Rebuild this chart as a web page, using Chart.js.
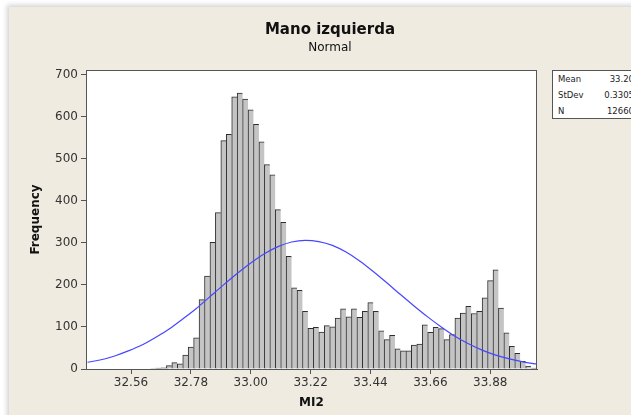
<!DOCTYPE html>
<html>
<head>
<meta charset="utf-8">
<script src="https://cdn.jsdelivr.net/npm/chart.js@4.4.0/dist/chart.umd.min.js"></script>
<style>
    html, body { margin: 0; padding: 0; width: 631px; height: 415px; overflow: hidden; background: #ffffff; }
    #panel { position: absolute; left: 9px; top: 7px; width: 640px; height: 420px; background: #efebe1; box-shadow: -2px -2px 5px rgba(0, 0, 0, 0.18); }
    #grafico { position: absolute; left: 0; top: 0; }
    .titulo { position: absolute; left: 0; width: 660px; text-align: center; font-family: "DejaVu Sans", sans-serif; color: #111; line-height: 1; }
    #stats { position: absolute; left: 552px; top: 70px; width: 100px; height: 47px; background: #fff; border: 1px solid #555; font-family: "DejaVu Sans", sans-serif; font-size: 8.5px; color: #222; }
    #stats .fila { position: absolute; left: 0; width: 100px; height: 11px; line-height: 11px; }
    #stats .et { position: absolute; left: 5px; }
    #stats .val { position: absolute; left: 0; width: 81px; text-align: right; }
</style>
</head>
<body>
<div id="panel"></div>
<canvas id="grafico" width="631" height="415"></canvas>
<div class="titulo" style="top: 22px; font-size: 15px; font-weight: bold;">Mano izquierda</div>
<div class="titulo" style="top: 41px; font-size: 12px;">Normal</div>
<div id="stats">
    <div class="fila" style="top: 3px;"><span class="et">Mean</span><span class="val">33.20</span></div>
    <div class="fila" style="top: 19px;"><span class="et">StDev</span><span class="val">0.3305</span></div>
    <div class="fila" style="top: 35px;"><span class="et">N</span><span class="val">12660</span></div>
</div>
<script>
// centros de las clases del histograma (ancho 0.02)
const centros = [
    32.64, 32.66, 32.68, 32.70, 32.72, 32.74, 32.76, 32.78, 32.80, 32.82,
    32.84, 32.86, 32.88, 32.90, 32.92, 32.94, 32.96, 32.98, 33.00, 33.02,
    33.04, 33.06, 33.08, 33.10, 33.12, 33.14, 33.16, 33.18, 33.20, 33.22,
    33.24, 33.26, 33.28, 33.30, 33.32, 33.34, 33.36, 33.38, 33.40, 33.42,
    33.44, 33.46, 33.48, 33.50, 33.52, 33.54, 33.56, 33.58, 33.60, 33.62,
    33.64, 33.66, 33.68, 33.70, 33.72, 33.74, 33.76, 33.78, 33.80, 33.82,
    33.84, 33.86, 33.88, 33.90, 33.92, 33.94, 33.96, 33.98, 34.00, 34.02,
    34.04
];
const frecuencias = [
    1, 2, 3, 8, 15, 12, 33, 52, 74, 165,
    221, 301, 372, 543, 558, 647, 656, 642, 616, 582,
    540, 486, 462, 379, 349, 268, 193, 187, 137, 97,
    99, 88, 103, 100, 121, 143, 124, 143, 123, 137,
    158, 137, 91, 70, 80, 48, 43, 43, 57, 59,
    105, 87, 99, 96, 70, 82, 121, 133, 149, 132,
    137, 169, 210, 236, 145, 86, 54, 37, 18, 7,
    2
];

// curva normal
const curvaX = [
    32.40, 32.45, 32.50, 32.55, 32.60, 32.65, 32.70, 32.75, 32.80, 32.85,
    32.90, 32.95, 33.00, 33.05, 33.10, 33.15, 33.20, 33.25, 33.30, 33.35,
    33.40, 33.45, 33.50, 33.55, 33.60, 33.65, 33.70, 33.75, 33.80, 33.85,
    33.90, 33.95, 34.00, 34.05
];
const curvaY = [
    16, 22, 31, 43, 57, 75, 95, 119, 144, 172,
    200, 227, 252, 274, 291, 302, 306, 303, 294, 278,
    257, 232, 205, 177, 150, 124, 100, 78, 60, 45,
    33, 24, 17, 12
];

const ticksX = [32.56, 32.78, 33.00, 33.22, 33.44, 33.66, 33.88];
const ticksY = [0, 100, 200, 300, 400, 500, 600, 700];

// fondo blanco y marco del area de trazado
const marco = {
    id: 'marco',
    beforeDraw(chart) {
        const a = chart.chartArea;
        const ctx = chart.ctx;
        ctx.save();
        ctx.fillStyle = '#ffffff';
        ctx.fillRect(a.left, a.top, a.right - a.left, a.bottom - a.top);
        ctx.restore();
    },
    afterDraw(chart) {
        const a = chart.chartArea;
        const ctx = chart.ctx;
        ctx.save();
        ctx.strokeStyle = '#555555';
        ctx.lineWidth = 1;
        ctx.strokeRect(a.left + 0.5, a.top + 0.5, a.right - a.left - 1, a.bottom - a.top);
        ctx.restore();
    }
};

const fuente = { family: 'DejaVu Sans', size: 12 };

let barras = centros.map((x, i) => ({ x: x, y: frecuencias[i] }));
let curva = curvaX.map((x, i) => ({ x: x, y: curvaY[i] }));

let ctx = document.getElementById('grafico').getContext('2d');
new Chart(ctx, {
    type: 'bar',
    data: {
        datasets: [
            {
                type: 'line',
                label: 'Normal',
                data: curva,
                borderColor: '#4646ff',
                borderWidth: 1.2,
                pointRadius: 0,
                fill: false,
                cubicInterpolationMode: 'monotone',
                order: 0
            },
            {
                type: 'bar',
                label: 'MI2',
                data: barras,
                backgroundColor: '#c4c4c4',
                borderColor: '#2e2e2e',
                borderWidth: { top: 1, left: 1, right: 0, bottom: 0 },
                borderSkipped: false,
                barPercentage: 1,
                categoryPercentage: 1,
                grouped: false,
                order: 1
            }
        ]
    },
    options: {
        responsive: false,
        animation: false,
        devicePixelRatio: 1,
        layout: { padding: { top: 70, right: 94, left: 0, bottom: 0 } },
        plugins: {
            legend: { display: false },
            tooltip: { enabled: false }
        },
        scales: {
            x: {
                type: 'linear',
                min: 32.3946,
                max: 34.0517,
                offset: false,
                afterBuildTicks: s => { s.ticks = ticksX.map(v => ({ value: v })); },
                afterFit: s => { s.height = 46; },
                grid: { drawOnChartArea: false, offset: false, tickLength: 5, color: '#555' },
                border: { color: '#555' },
                ticks: {
                    font: fuente,
                    color: '#333',
                    padding: 2,
                    maxRotation: 0,
                    autoSkip: false,
                    callback: v => v.toFixed(2)
                },
                title: {
                    display: true,
                    text: 'MI2',
                    font: { family: 'DejaVu Sans', size: 12, weight: 'bold' },
                    color: '#111',
                    padding: { top: 0, bottom: 5 }
                }
            },
            y: {
                min: 0,
                max: 711,
                afterBuildTicks: s => { s.ticks = ticksY.map(v => ({ value: v })); },
                afterFit: s => { s.width = 86; },
                grid: { drawOnChartArea: false, tickLength: 5, color: '#555' },
                border: { color: '#555' },
                ticks: { font: fuente, color: '#333', padding: 3 },
                title: {
                    display: true,
                    text: 'Frequency',
                    font: { family: 'DejaVu Sans', size: 12, weight: 'bold' },
                    color: '#111',
                    padding: { top: 29, bottom: 0 }
                }
            }
        }
    },
    plugins: [marco]
});
</script>
</body>
</html>
